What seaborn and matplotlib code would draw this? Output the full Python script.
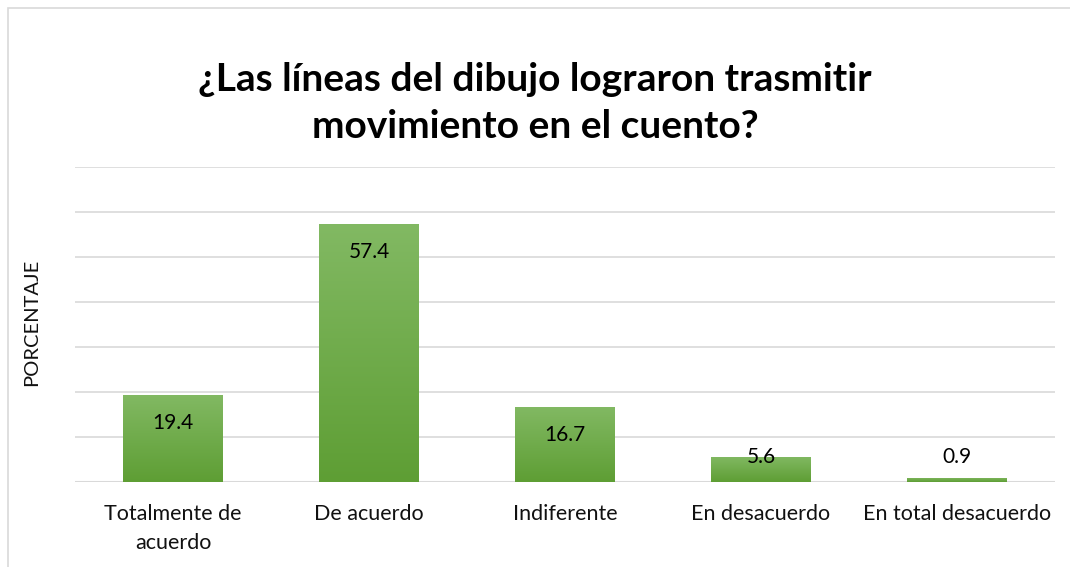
import numpy as np
import pandas as pd
import seaborn as sns
import matplotlib.pyplot as plt
from matplotlib.colors import LinearSegmentedColormap
from matplotlib.patches import Rectangle

categorias = ["Totalmente de\nacuerdo", "De acuerdo", "Indiferente", "En desacuerdo", "En total desacuerdo"]
porcentaje = [19.4, 57.4, 16.7, 5.6, 0.9]
etiquetas = ["19.4", "57.4", "16.7", "5.6", "0.9"]

df = pd.DataFrame({"cat": categorias, "pct": porcentaje})

sns.set_style("white")
plt.rcParams["font.family"] = ["Lato", "DejaVu Sans"]

fig = plt.figure(figsize=(10.7, 5.67), dpi=100)
ax = fig.add_axes([75 / 1070, 1 - 482 / 567, 980 / 1070, 315 / 567])

sns.barplot(data=df, x="cat", y="pct", color="#70AD47", width=0.51, ax=ax, zorder=3)

# gradient fill like the Excel bars
cmap = LinearSegmentedColormap.from_list("g", ["#5E9E34", "#82B963"])
grad = np.linspace(0, 1, 256).reshape(-1, 1)
for bar in ax.patches:
    x0, y0 = bar.get_x(), bar.get_y()
    w, h = bar.get_width(), bar.get_height()
    im = ax.imshow(grad, cmap=cmap, origin="lower", aspect="auto",
                   extent=[x0, x0 + w, y0, y0 + h], zorder=4)
    im.set_clip_path(bar)
    bar.set_edgecolor("none")

ax.set_xlim(-0.5, 4.5)
ax.set_ylim(0, 70)
ax.set_yticks(np.arange(0, 71, 10))
ax.set_yticklabels([])
ax.tick_params(axis="y", length=0)
ax.tick_params(axis="x", length=0, pad=16, labelsize=15.5, labelcolor="#111111")
for lab in ax.get_xticklabels():
    lab.set_linespacing(1.55)
ax.yaxis.grid(True, color="#D9D9D9", linewidth=1.2, zorder=0)
for s in ax.spines.values():
    s.set_visible(False)
ax.axhline(0, color="#D9D9D9", linewidth=1.5, zorder=2)

for i, (v, t) in enumerate(zip(porcentaje, etiquetas)):
    ax.text(i, max(v - 6.2, 5.5), t, ha="center", va="center", fontsize=15, color="#000000", zorder=6)

ax.set_xlabel("")
ax.set_ylabel("")
fig.text(32 / 1070, 1 - 322 / 567, "PORCENTAJE", rotation=90, ha="center", va="center",
         fontsize=14.5, color="#111111")

fig.text(0.5, 1 - 103 / 567, "¿Las líneas del dibujo lograron trasmitir\nmovimiento en el cuento?",
         ha="center", va="center", fontsize=28, fontweight="bold", linespacing=1.42, color="black")

# chart frame
fig.patches.append(Rectangle((8 / 1070, -0.1), 1.2, 1 - 8 / 567 + 0.1, transform=fig.transFigure,
                             fill=False, edgecolor="#D9D9D9", linewidth=1.2))

fig.savefig("out.png", dpi=100)
